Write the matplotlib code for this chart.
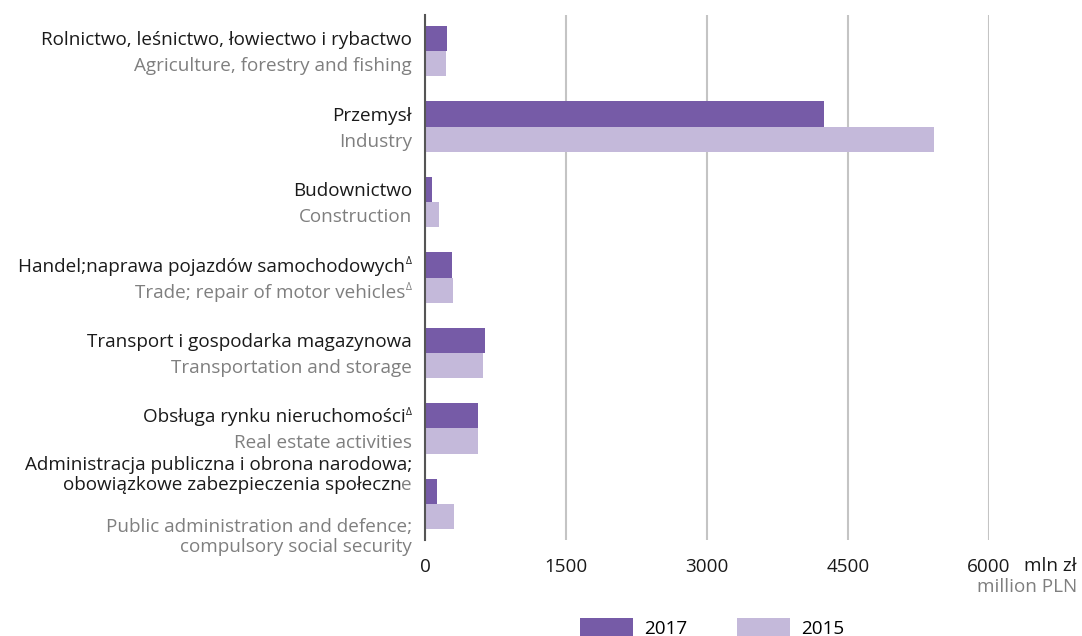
import matplotlib
matplotlib.use("Agg")
import matplotlib.pyplot as plt
import matplotlib.transforms as mtransforms
from matplotlib.patches import Patch

categories_pl = [
    ["Rolnictwo, leśnictwo, łowiectwo i rybactwo"],
    ["Przemysł"],
    ["Budownictwo"],
    ["Handel;naprawa pojazdów samochodowych"],
    ["Transport i gospodarka magazynowa"],
    ["Obsługa rynku nieruchomości"],
    ["Administracja publiczna i obrona narodowa;", "obowiązkowe zabezpieczenia społeczne"],
]
categories_en = [
    ["Agriculture, forestry and fishing"],
    ["Industry"],
    ["Construction"],
    ["Trade; repair of motor vehicles"],
    ["Transportation and storage"],
    ["Real estate activities"],
    ["Public administration and defence;", "compulsory social security"],
]
delta_pl = [False, False, False, True, False, True, False]
delta_en = [False, False, False, True, False, False, False]

values_2017 = [231, 4241, 71, 284, 635, 561, 124]
values_2015 = [220, 5412, 146, 295, 614, 560, 305]
series_labels = ["2017", "2015"]
xticks = [0, 1500, 3000, 4500, 6000]
xtick_labels = ["0", "1500", "3000", "4500", "6000"]

C17 = "#765ba7"
C15 = "#c4b9da"
BLACK = "#1a1a1a"
GRAY = "#7f7f7f"
FONT = "Open Sans"
FS = 13.6

W, H = 1082, 636
fig = plt.figure(figsize=(W / 100, H / 100), dpi=100)
ax = fig.add_axes([425 / W, 1 - 540 / H, (989 - 425) / W, (540 - 15) / H])

n = len(values_2017)
ys = list(range(n))
bh = 0.333
ax.barh([y - bh / 2 for y in ys], values_2017, height=bh, color=C17, zorder=3)
ax.barh([y + bh / 2 for y in ys], values_2015, height=bh, color=C15, zorder=3)

ax.set_xlim(0, 6000)
ax.set_ylim(n - 1 + 0.477, -0.477)
ax.set_yticks([])
ax.set_xticks(xticks)
ax.set_xticklabels(xtick_labels, fontfamily=FONT, fontsize=FS, color=BLACK)
ax.tick_params(axis="x", length=0, pad=13)
ax.grid(axis="x", color="#c4c4c4", linewidth=1.5, zorder=0)
for s in ["top", "right", "bottom"]:
    ax.spines[s].set_visible(False)
ax.spines["left"].set_color("#555555")
ax.spines["left"].set_linewidth(1.5)
ax.spines["left"].set_zorder(4)

fig.canvas.draw()
renderer = fig.canvas.get_renderer()
blend = mtransforms.blended_transform_factory(ax.transAxes, ax.transData)


def width_of(text, size):
    t = ax.text(0, 0, text, fontfamily=FONT, fontsize=size)
    w = t.get_window_extent(renderer).width
    t.remove()
    return w


def put(text, y, x_px, dy_px, color, size, rp=0):
    tr = blend + mtransforms.ScaledTranslation(x_px / 100, (-dy_px + rp) / 100, fig.dpi_scale_trans)
    ax.text(0, y, text, transform=tr, ha="right", va="center",
            fontfamily=FONT, fontsize=size, color=color, clip_on=False)


RIGHT = -13
SHIFT = 2


def put_line(text, y, dy, color, delta=False, gray_tail=False):
    dy = dy + SHIFT
    x = RIGHT
    if delta:
        put("Δ", y, x, dy, color, FS * 0.55, rp=5)
        x -= width_of("Δ", FS * 0.55) + 0.5
    if gray_tail:
        head = text[:-1]
        put(text[-1], y, x, dy, GRAY, FS)
        x -= width_of(text, FS) - width_of(head, FS)
        text = head
    put(text, y, x, dy, color, FS)


for i in ys:
    pl = categories_pl[i]
    en = categories_en[i]
    if len(pl) == 1:
        put_line(pl[0], i, -13, BLACK, delta=delta_pl[i])
        put_line(en[0], i, 13, GRAY, delta=delta_en[i])
    else:
        put_line(pl[0], i, -41, BLACK)
        put_line(pl[1], i, -21, BLACK, gray_tail=True)
        put_line(en[0], i, 21, GRAY)
        put_line(en[1], i, 41, GRAY)

# unit labels
fig.text(1076 / W, 1 - 566 / H, "mln zł", ha="right", va="center",
         fontfamily=FONT, fontsize=FS, color=BLACK)
fig.text(1077 / W, 1 - 587 / H, "million PLN", ha="right", va="center",
         fontfamily=FONT, fontsize=FS, color=GRAY)

handles = [Patch(facecolor=C17, edgecolor="none"), Patch(facecolor=C15, edgecolor="none")]
fig.legend(handles, series_labels, loc="lower left", bbox_to_anchor=(580 / W, -2 / H),
           ncol=2, frameon=False, borderpad=0, borderaxespad=0,
           handlelength=2.8, handleheight=1.2, handletextpad=0.58, columnspacing=2.66,
           prop={"family": FONT, "size": FS})

fig.savefig("out.png", dpi=100)
